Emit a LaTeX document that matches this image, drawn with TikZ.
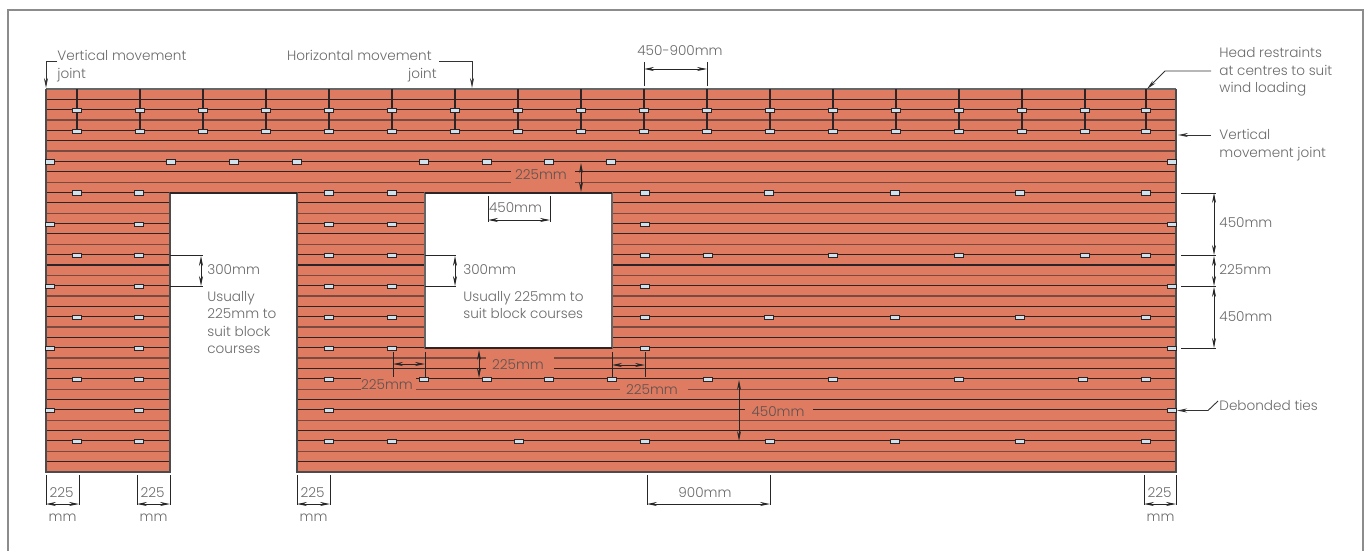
\documentclass[tikz,border=0pt]{standalone}
\usepackage{fontspec}
\usetikzlibrary{arrows.meta}
\setmainfont{Poppins}[UprightFont=* Light]
\definecolor{brick}{HTML}{DF7B61}
\definecolor{course}{HTML}{2E2426}
\definecolor{coursesoft}{HTML}{7A4A40}
\definecolor{tiefill}{HTML}{CFE3EE}
\definecolor{labeltext}{HTML}{6A6A6A}
\definecolor{bricktext}{HTML}{5E5250}
\tikzset{
    wall tie/.style={
        draw=course,line width=.5pt,fill=tiefill,inner sep=0pt,
        minimum width=4.6pt,minimum height=2.4pt
    },
    dim label/.style={font=\fontsize{6.8}{8.7}\selectfont,text=labeltext,inner sep=0pt,yshift=-.5pt},
    brick label/.style={dim label,text=bricktext},
    dim line/.style={black!85,line width=.45pt},
    dim arrow/.style={black!85,line width=.45pt,<->,>={Stealth[length=5pt,width=2pt]}},
    lead arrow/.style={black!80,line width=.45pt,->,>={Stealth[length=5pt,width=2pt]}}
}
\begin{document}
\begin{tikzpicture}[x=.5pt,y=-.5pt]
    \useasboundingbox (0,0) rectangle (1365,551);
    \draw[black!45,line width=.6pt] (8,551) -- (8,10) -- (1363,10) -- (1363,551);
    % wall
    \fill[brick] (46,89) rectangle (1176,472);
    \foreach \i in {1,...,36}
        \draw[course,line width=.55pt] (46,{89+\i*10.35}) -- (1176,{89+\i*10.35});
    \foreach \i in {3,6,...,18,20,23,...,35}
        \draw[coursesoft,line width=.65pt] (46,{89+\i*10.35}) -- (1176,{89+\i*10.35});
    \fill[white] (170,193) rectangle (297,473);
    \fill[white] (425,193) rectangle (612,348);
    \draw[black!60,line width=.6pt] (46,89) -- (1176,89);
    \draw[black!70,line width=.6pt] (46,89) -- (46,472) -- (170,472) -- (170,193) -- (297,193) -- (297,472) -- (1176,472) -- (1176,89);
    \draw[black!60,line width=.6pt] (425,193) rectangle (612,348);
    \draw[course,line width=.6pt] (170,193) -- (297,193) (425,193) -- (612,193) (425,348) -- (612,348);
    % gaps in the courses for the labels
    \fill[brick] (511,167) rectangle (575,188);
    \fill[brick] (486,354) rectangle (554,374);
    \fill[brick] (361,375) rectangle (416,395);
    \fill[brick] (620,385) rectangle (688,395);
    \fill[brick] (745,405) rectangle (813,416);
    % head restraints
    \foreach \x in {77,140,203,266,329,392,455,518,581,644,707,770,833,896,959,1022,1085,1146}{
        \draw[course,line width=.6pt] (\x,89) -- (\x,131);
        \node[wall tie] (tieA\x) at (\x,110.5) {};
        \node[wall tie] (tieB\x) at (\x,131.5) {};
    }
    % ties
    \foreach \y/\xlist in {
        162/{50,171,234,297,424,487,549,611,1172},
        193/{77,139,329,392,645,769,895,1020,1146},
        224.5/{50,139,329,392,645,1172},
        255.5/{77,139,329,392,645,708,833,959,1085,1146},
        286.5/{50,139,329,392,645,1172},
        317.5/{77,139,329,392,645,769,895,1020,1146},
        348.5/{50,139,329,392,645,1172},
        379.5/{77,139,329,424,487,549,612,708,833,959,1083,1146},
        410.5/{50,139,329,1172},
        441.5/{77,139,329,392,519,645,770,895,1020,1146}}
        \foreach \x in \xlist
            \node[wall tie] at (\x,\y) {};
    % labels top
    \node[dim label,align=left,anchor=north west] (vmjTop) at (57,49) {Vertical movement\\joint};
    \coordinate (vmjEnd) at (46,88);
    \draw[lead arrow] (57,61) -- (46,61) -- (vmjEnd);
    \node[dim label,align=right,anchor=north east] (hmj) at (432,49) {Horizontal movement\\joint\hspace*{-2.5pt}};
    \coordinate (hmjEnd) at (472,88);
    \draw[lead arrow] (439,61) -- (472,61) -- (hmjEnd);
    \node[dim label] (spacing) at (680,50) {450-900mm};
    \draw[dim line] (644,62) -- (644,86) (707,62) -- (707,86);
    \draw[dim arrow] (644,69) -- (707,69);
    \node[dim label,align=left,anchor=north west] (head) at (1219,46) {Head restraints\\at centres to suit\\wind loading};
    \coordinate (headEnd) at (1147,89);
    \draw[lead arrow] (1211,71) -- (1165,71) -- (headEnd);
    \node[dim label,align=left,anchor=north west] (vmjRight) at (1219,128) {Vertical\\movement joint};
    \coordinate (vmjRightEnd) at (1178,135);
    \draw[lead arrow] (1211,135) -- (vmjRightEnd);
    \node[dim label,anchor=west] (debond) at (1219,404) {Debonded ties};
    \coordinate (debondEnd) at (1177,410.5);
    \draw[lead arrow] (1218,401) -- (1208,410.5) -- (debondEnd);
    % right dimensions
    \draw[dim line] (1181,193) -- (1216,193) (1181,255.5) -- (1216,255.5) (1181,286.5) -- (1216,286.5) (1181,348.5) -- (1216,348.5);
    \draw[dim arrow] (1214,193) -- (1214,255);
    \draw[dim arrow] (1214,256) -- (1214,286);
    \draw[dim arrow] (1214,287) -- (1214,348);
    \node[dim label,anchor=west] (rightA) at (1219,222) {450mm};
    \node[dim label,anchor=west] (rightB) at (1219,269) {225mm};
    \node[dim label,anchor=west] (rightC) at (1219,316) {450mm};
    % inner dimensions
    \node[brick label] (lintel) at (541,174) {225mm};
    \draw[dim arrow] (581,163) -- (581,192);
    \draw[dim line] (488,196) -- (488,222) (550,196) -- (550,222);
    \draw[dim arrow] (488,220) -- (550,220);
    \node[dim label] (openA) at (515.5,207) {450mm};
    \draw[dim line] (170,255.5) -- (203,255.5) (170,286.5) -- (203,286.5);
    \draw[dim arrow] (201,256) -- (201,286);
    \node[dim label,anchor=west] (doorA) at (207,269) {300mm};
    \node[dim label,align=left,anchor=north west] (doorB) at (207,290) {Usually\\225mm to\\suit block\\courses};
    \draw[dim line] (425,255.5) -- (456,255.5) (425,286.5) -- (456,286.5);
    \draw[dim arrow] (455,256) -- (455,286);
    \node[dim label,anchor=west] (winA) at (463,269) {300mm};
    \node[dim label,align=left,anchor=north west] (winB) at (463,290) {Usually 225mm to\\suit block courses};
    \node[brick label] (sill) at (518,364) {225mm};
    \draw[dim arrow] (479,350) -- (479,378);
    \draw[dim line] (393,352) -- (393,377) (425,352) -- (425,377) (612,352) -- (612,377) (645,352) -- (645,377);
    \draw[dim arrow] (393,364) -- (425,364);
    \draw[dim arrow] (612,365) -- (645,365);
    \node[brick label] (sillL) at (387,384) {225mm};
    \node[brick label] (sillR) at (652,389) {225mm};
    \node[brick label] (ver) at (778,411) {450mm};
    \draw[dim arrow] (739,380) -- (739,441);
    % bottom dimensions
    \foreach \xa/\xb/\name in {46/79/a,137/170/b,297/330/c,1144/1176/d}{
        \draw[dim line] (\xa,475) -- (\xa,505) (\xb,475) -- (\xb,505);
        \draw[dim arrow] (\xa,504) -- (\xb,504);
        \node[dim label] (bot\name) at ({\xa+15.5},492) {225};
        \node[dim label] (mm\name) at ({\xa+16.5},517) {mm};
    }
    \draw[dim line] (647,475) -- (647,505) (770,475) -- (770,505);
    \draw[dim arrow] (647,504) -- (770,504);
    \node[dim label] (botMid) at (705,492) {900mm};
\end{tikzpicture}
\end{document}
